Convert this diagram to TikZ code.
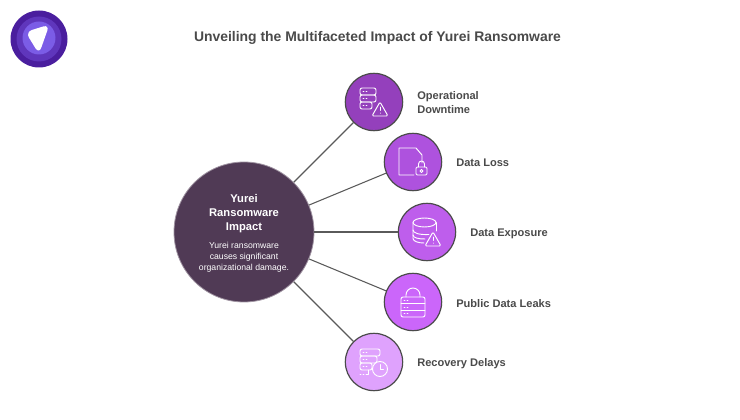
\documentclass[tikz,border=0pt]{standalone}
\usepackage{fontspec}
\setmainfont{Liberation Sans}
\definecolor{hubcol}{HTML}{503A55}
\definecolor{inkcol}{HTML}{4A4A4A}
\definecolor{spokecol}{HTML}{5A5A5A}
\definecolor{purpA}{HTML}{9440BC}
\definecolor{purpB}{HTML}{AE52DE}
\definecolor{purpC}{HTML}{BE5EEC}
\definecolor{purpD}{HTML}{CB66FA}
\definecolor{purpE}{HTML}{DFA2FD}
\definecolor{logoA}{HTML}{4A1E9E}
\definecolor{logoB}{HTML}{5F36BC}
\definecolor{logoC}{HTML}{7B5CE6}
\tikzset{
    spot/.style={circle, draw=inkcol, line width=0.9pt, minimum size=43pt, inner sep=0pt},
    spoke/.style={draw=spokecol, line width=0.8pt},
    itemlabel/.style={anchor=west, align=left, text=inkcol, inner sep=0pt, font=\fontsize{8.3}{10.5}\selectfont\bfseries},
    glyph/.style={draw=white, line width=0.7pt, line join=round, line cap=round},
}
% one row of a server rack, x from a to b, top at y
\newcommand{\rackrow}[3]{
    \draw[glyph, rounded corners=1.5pt] (#1,#3) rectangle (#2,#3+7);
    \draw[glyph] (#1+3,#3+3.5) -- (#1+4,#3+3.5) (#1+6,#3+3.5) -- (#1+7,#3+3.5);
}
\newcommand{\warnsign}[2]{
    \draw[glyph, rounded corners=1pt] (#1,#2) -- (#1-8,#2+14) -- (#1+8,#2+14) -- cycle;
    \draw[glyph] (#1,#2+5) -- (#1,#2+8.5) (#1,#2+11) -- (#1,#2+11.2);
}
\begin{document}
\begin{tikzpicture}[x=0.75pt, y=-0.75pt]
    \useasboundingbox (0,0) rectangle (740,420);

    % logo
    \fill[logoA] (39,39) circle (28.5);
    \fill[logoB] (39,39) circle (22.5);
    \fill[logoC] (39,38) circle (16.5);
    \fill[white, rounded corners=5pt] (25.5,32) -- (49.5,24.5) -- (39,54) -- cycle;

    \node[text=inkcol, font=\fontsize{10.45}{13}\selectfont\bfseries] (title) at (377.5,37.5) {Unveiling the Multifaceted Impact of Yurei Ransomware};

    \node[circle, fill=hubcol, draw=hubcol!55, line width=0.6pt, minimum size=105pt, inner sep=0pt] (hub) at (244,232) {};
    \node[spot, fill=purpA] (downtime) at (374,102) {};
    \node[spot, fill=purpB] (loss) at (413,162) {};
    \node[spot, fill=purpC] (exposure) at (427,232) {};
    \node[spot, fill=purpD] (leaks) at (413,302) {};
    \node[spot, fill=purpE] (delays) at (374,362) {};

    \draw[spoke] (hub) -- (downtime);
    \draw[spoke] (hub) -- (loss);
    \draw[spoke] (hub) -- (exposure);
    \draw[spoke] (hub) -- (leaks);
    \draw[spoke] (hub) -- (delays);

    \node[text=white, align=center, font=\fontsize{8.4}{10.5}\selectfont\bfseries] (hubtitle) at (244,214) {Yurei\\Ransomware\\Impact};
    \node[text=white, align=center, font=\fontsize{6.5}{8.1}\selectfont] (hubtext) at (244,257.5) {Yurei ransomware\\causes significant\\organizational damage.};

    \node[itemlabel] (downtimelabel) at (417,103) {Operational\\Downtime};
    \node[itemlabel] (losslabel) at (456,162.8) {Data Loss};
    \node[itemlabel] (exposurelabel) at (470,233.5) {Data Exposure};
    \node[itemlabel] (leakslabel) at (456,303.5) {Public Data Leaks};
    \node[itemlabel] (delayslabel) at (417,363.5) {Recovery Delays};

    % rack + warning
    \begin{scope}[shift={(374,102)}]
        \rackrow{-14}{2}{-14}
        \rackrow{-14}{2}{-7}
        \rackrow{-14}{-2}{0}
        \warnsign{6}{0}
    \end{scope}

    % file + lock
    \begin{scope}[shift={(413,162)}]
        \draw[glyph] (1,13) -- (-14,13) -- (-14,-14) -- (3,-14) -- (9,-7) -- (9,1);
        \draw[glyph, rounded corners=1pt] (3,5) rectangle (14,13);
        \draw[glyph] (5.5,5) -- (5.5,2) arc (180:360:3) -- (11.5,5);
        \draw[glyph] (8.5,9) circle (1.5);
    \end{scope}

    % database + warning
    \begin{scope}[shift={(427,232)}]
        \draw[glyph] (-2.5,-9.5) ellipse (11.5 and 4.5);
        \draw[glyph] (-14,-9.5) -- (-14,6.5) .. controls (-14,9.5) and (-8,11) .. (-3,11);
        \draw[glyph] (9,-9.5) -- (9,-1);
        \draw[glyph] (-14,-2) .. controls (-14,1) and (-8,3) .. (2,2.5);
        \draw[glyph] (-14,3) .. controls (-14,6) and (-8,7) .. (-2,7);
        \warnsign{6}{0}
    \end{scope}

    % lock with rack
    \begin{scope}[shift={(413,302)}]
        \draw[glyph, rounded corners=1.5pt] (-12,-5) rectangle (12,15);
        \draw[glyph] (-12,1.5) -- (12,1.5) (-12,8) -- (12,8);
        \draw[glyph] (-7,-5) -- (-7,-7) arc (180:360:7) -- (7,-5);
        \foreach \rowy in {-2,5,11.5} {
            \draw[glyph] (-9,\rowy) -- (-8,\rowy) (-6,\rowy) -- (-5,\rowy);
        }
    \end{scope}

    % rack + clock
    \begin{scope}[shift={(374,362)}]
        \rackrow{-14}{6}{-13}
        \rackrow{-14}{3}{-6}
        \rackrow{-14}{-2}{1}
        \draw[glyph, fill=purpE] (6,7) circle (7.5);
        \draw[glyph] (6,2.5) -- (6,7) -- (9.5,7);
        \draw[glyph] (-14,12) -- (-13,12) (-11,12) -- (-10,12) (-8,12) -- (-6,12) -- (-6,8);
    \end{scope}
\end{tikzpicture}
\end{document}
